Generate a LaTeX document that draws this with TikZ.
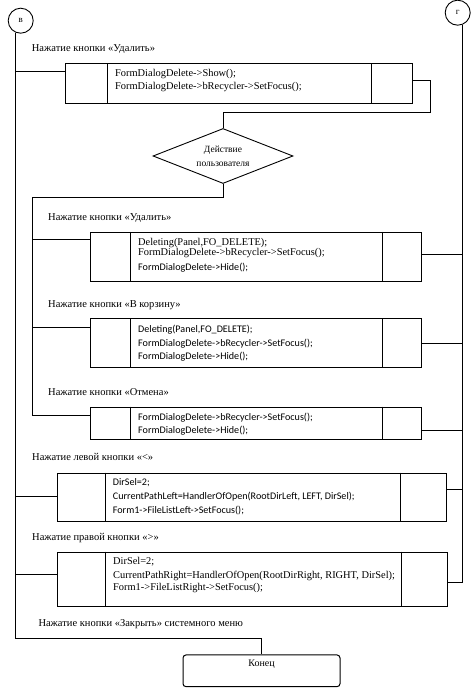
\documentclass[tikz,border=0pt]{standalone}
\usepackage{fontspec}
\setmainfont{Liberation Serif}
\newfontfamily\calib{Carlito}
\usetikzlibrary{shapes.geometric,calc}
\tikzset{
  ln/.style={line width=0.9pt},
  proc/.style={draw, line width=1.1pt, inner sep=0pt, anchor=north west},
  divl/.style={line width=0.8pt},
  lbl/.style={anchor=base west, inner sep=0pt, font=\fontsize{10.5}{12}\selectfont},
  cs/.style={anchor=base west, inner sep=0pt, font=\fontsize{10.4}{12}\selectfont},
  cc/.style={anchor=base west, inner sep=0pt, font=\calib\fontsize{10.1}{12}\selectfont},
  conn/.style={draw, circle, line width=0.9pt, minimum size=25pt, inner sep=0pt, font=\fontsize{9}{10}\selectfont},
}
\begin{document}
\begin{tikzpicture}[x=1pt,y=-1pt]
\useasboundingbox (0,0) rectangle (475,692);

% connectors
\node[conn] (cv) at (20.7,20.7) {в};
\node[conn] (cg) at (457.7,12.7) {г};

% boxes
\node[proc, minimum width=346.7pt, minimum height=40pt] (b1) at (65,63.3) {};
\node[proc, minimum width=331pt, minimum height=49pt] (b2) at (90,232) {};
\node[proc, minimum width=331pt, minimum height=48.4pt] (b3) at (90,318.3) {};
\node[proc, minimum width=331pt, minimum height=32.3pt] (b4) at (90,406.7) {};
\node[proc, minimum width=388.4pt, minimum height=48.3pt] (b5) at (57.3,472.7) {};
\node[proc, minimum width=389.4pt, minimum height=54pt] (b6) at (57.3,551.7) {};

% dividers
\draw[divl] ($(b1.north west)+(42.3,0)$) -- ($(b1.south west)+(42.3,0)$);
\draw[divl] ($(b1.north east)+(-41.7,0)$) -- ($(b1.south east)+(-41.7,0)$);
\foreach \b in {b2,b3,b4}{
  \draw[divl] ($(\b.north west)+(40,0)$) -- ($(\b.south west)+(40,0)$);
  \draw[divl] ($(\b.north east)+(-39.3,0)$) -- ($(\b.south east)+(-39.3,0)$);
}
\foreach \b in {b5,b6}{
  \draw[divl] ($(\b.north west)+(47.7,0)$) -- ($(\b.south west)+(47.7,0)$);
  \draw[divl] ($(\b.north east)+(-46.4,0)$) -- ($(\b.south east)+(-46.4,0)$);
}

% decision
\node[draw, diamond, line width=0.9pt, minimum width=140pt, minimum height=55pt, aspect=2.5, inner sep=0pt, align=center, font=\fontsize{9.5}{14}\selectfont] (dia) at (223,156) {Действие\\пользователя};

% end
\node[draw, rounded corners=3pt, line width=1pt, minimum width=157pt, minimum height=31.7pt, inner sep=0pt, align=center, font=\fontsize{10}{11}\selectfont] (endk) at (261.5,670.8) {Конец\\\strut};

% connection points on boxes
\path (b1.north west) ++(0,7.7) coordinate (b1in);
\path (b1.north east) ++(0,16.7) coordinate (b1out);
\path (b2.north west) ++(0,7.3) coordinate (b2in);
\path (b2.north east) ++(0,22.3) coordinate (b2out);
\path (b3.north west) ++(0,9) coordinate (b3in);
\path (b3.north east) ++(0,25) coordinate (b3out);
\path (b4.north west) ++(0,8.3) coordinate (b4in);
\path (b4.north east) ++(0,23.3) coordinate (b4out);
\path (b5.north west) ++(0,24) coordinate (b5in);
\path (b5.north east) ++(0,16.6) coordinate (b5out);
\path (b6.north west) ++(0,22.3) coordinate (b6in);
\path (b6.north east) ++(0,31) coordinate (b6out);
\path (cv.-114) ++(0,606) coordinate (vbot);

% main left line (в)
\draw[ln] (cv.-114) -- (vbot) -- (vbot -| endk.north) -- (endk.north);
\draw[ln] (b1in -| cv.-114) -- (b1in);
\draw[ln] (b5in -| cv.-114) -- (b5in);
\draw[ln] (b6in -| cv.-114) -- (b6in);

% right line (г)
\draw[ln] (cg.-68) -- (b6out -| cg.-68);
\draw[ln] (b2out) -- (b2out -| cg.-68);
\draw[ln] (b3out) -- (b3out -| cg.-68);
\draw[ln] (b4out) -- (b4out -| cg.-68);
\draw[ln] (b5out) -- (b5out -| cg.-68);
\draw[ln] (b6out) -- (b6out -| cg.-68);

% loop from first box to decision
\draw[ln] (b1out) -- ++(17.3,0) -- ++(0,32.3) coordinate (r2) -- (r2 -| dia.north) -- (dia.north);

% inner branch line
\path (dia.south) ++(0,14) coordinate (d1);
\path (b2in) ++(-57.7,0) coordinate (vi0);
\coordinate (vi) at (vi0 |- d1);
\draw[ln] (dia.south) -- (d1) -- (vi) -- (vi |- b4in) -- (b4in);
\draw[ln] (b2in -| vi) -- (b2in);
\draw[ln] (b3in -| vi) -- (b3in);

% labels
\node[lbl] (l1) at (31.7,51.5) {Нажатие кнопки «Удалить»};
\node[lbl] (l2) at (48,220.2) {Нажатие кнопки «Удалить»};
\node[lbl] (l3) at (48,307.5) {Нажатие кнопки «В корзину»};
\node[lbl] (l4) at (48,395.2) {Нажатие кнопки «Отмена»};
\node[lbl] (l5) at (32,460.8) {Нажатие левой кнопки «<»};
\node[lbl] (l6) at (32,540.2) {Нажатие правой кнопки «>»};
\node[lbl] (l7) at (38.3,626.8) {Нажатие кнопки «Закрыть» системного меню};

% code text
\node[cs] (t11) at (115,76.2) {FormDialogDelete->Show();};
\node[cs] (t12) at (115,89.5) {FormDialogDelete->bRecycler->SetFocus();};

\node[cs] (t21) at (138,245.2) {Deleting(Panel,FO\_DELETE);};
\node[cs] (t22) at (138,255.5) {FormDialogDelete->bRecycler->SetFocus();};
\node[cc] (t23) at (138,270.2) {FormDialogDelete->Hide();};

\node[cc] (t31) at (138,332.5) {Deleting(Panel,FO\_DELETE);};
\node[cc] (t32) at (138,346.2) {FormDialogDelete->bRecycler->SetFocus();};
\node[cc] (t33) at (138,359.2) {FormDialogDelete->Hide();};

\node[cc] (t41) at (138,420.8) {FormDialogDelete->bRecycler->SetFocus();};
\node[cc] (t42) at (138,433.5) {FormDialogDelete->Hide();};

\node[cc] (t51) at (112.7,485.2) {DirSel=2;};
\node[cc] (t52) at (112.7,499.2) {CurrentPathLeft=HandlerOfOpen(RootDirLeft, LEFT, DirSel);};
\node[cc] (t53) at (112.7,513.5) {Form1->FileListLeft->SetFocus();};

\node[cs] (t61) at (113,564.2) {DirSel=2;};
\node[cs] (t62) at (113,578.2) {CurrentPathRight=HandlerOfOpen(RootDirRight, RIGHT, DirSel);};
\node[cs] (t63) at (113,590.5) {Form1->FileListRight->SetFocus();};
\end{tikzpicture}
\end{document}
